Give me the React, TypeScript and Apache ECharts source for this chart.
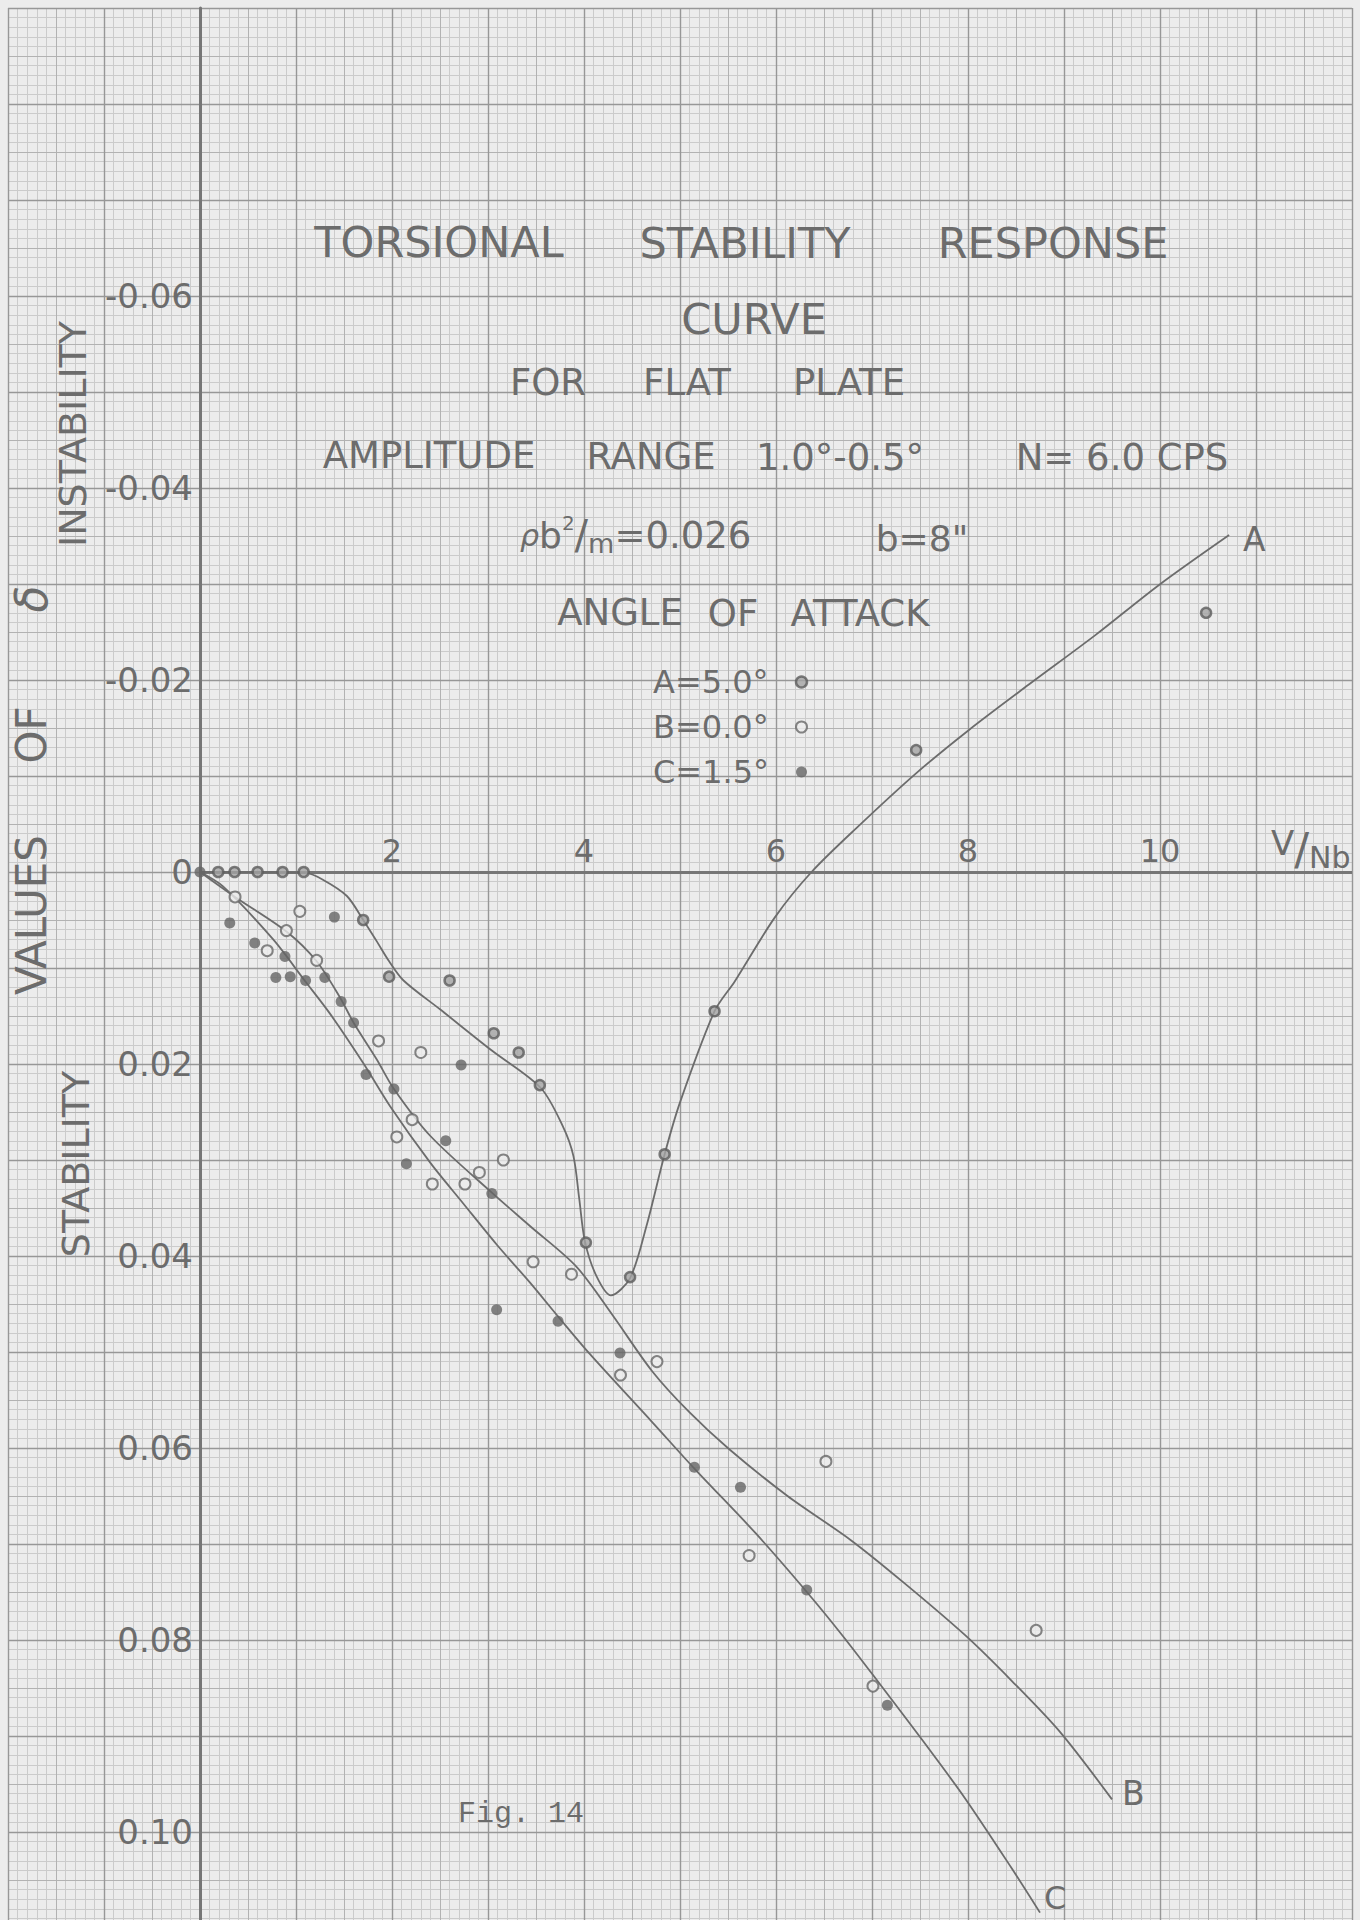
import React, { useEffect, useRef } from "react";
import * as echarts from "echarts";

// ---------- axes ----------
const X_MIN = -2;
const X_MAX = 12;
const Y_MIN = -0.09;
const Y_MAX = 0.11;
const X_AXIS_START = 0;
const X_TICK_VALUES = [2, 4, 6, 8, 10];
const X_TICK_LABELS = ["2", "4", "6", "8", "10"];
const Y_TICK_VALUES = [-0.06, -0.04, -0.02, 0, 0.02, 0.04, 0.06, 0.08, 0.1];
const Y_TICK_LABELS = ["-0.06", "-0.04", "-0.02", "0", "0.02", "0.04", "0.06", "0.08", "0.10"];

// ---------- series names ----------
const CURVE_NAMES = ["A", "B", "C"];
const LEGEND_NAMES = ["A=5.0°", "B=0.0°", "C=1.5°"];

// ---------- faired curves ----------
const A_CURVE_X = [0, 0.6, 1.1, 1.28, 1.53, 1.7, 1.84, 1.97, 2.12, 2.5, 3.04, 3.55, 3.78, 3.89, 3.95, 4.01, 4.13, 4.28, 4.48, 4.65, 4.84, 5.0, 5.36, 5.57, 5.99, 6.37, 6.84, 7.45, 8.01, 8.63, 9.33, 9.99, 10.72];
const A_CURVE_Y = [0, 0, 0.0001, 0.0008, 0.0025, 0.005, 0.0072, 0.0093, 0.0113, 0.0143, 0.0186, 0.0225, 0.0265, 0.0296, 0.034, 0.0385, 0.0421, 0.0441, 0.0423, 0.0369, 0.0294, 0.024, 0.0145, 0.0114, 0.0047, 0, -0.0046, -0.0102, -0.0148, -0.0195, -0.0247, -0.0299, -0.0351];

const B_CURVE_X = [0, 0.365, 0.9, 1.215, 1.46, 1.6, 1.84, 2.02, 2.4, 3.04, 3.44, 3.92, 4.3, 4.71, 5.1, 5.51, 6.12, 6.78, 7.34, 7.97, 8.46, 8.96, 9.5];
const B_CURVE_Y = [0, 0.0026, 0.0062, 0.0093, 0.0131, 0.0157, 0.0195, 0.0226, 0.0275, 0.0334, 0.0369, 0.0411, 0.0462, 0.052, 0.0563, 0.0601, 0.065, 0.0696, 0.0741, 0.0795, 0.0843, 0.0896, 0.0966];

const C_CURVE_X = [0, 0.24, 0.76, 1.09, 1.35, 1.7, 1.98, 2.4, 2.74, 3.09, 3.44, 3.73, 4.06, 4.71, 5.155, 5.79, 6.33, 6.69, 7.06, 7.53, 7.97, 8.45, 8.75];
const C_CURVE_Y = [0, 0.0015, 0.007, 0.0113, 0.0147, 0.0199, 0.0244, 0.0303, 0.0345, 0.0388, 0.0428, 0.0463, 0.0502, 0.0573, 0.0622, 0.0689, 0.0751, 0.0795, 0.0843, 0.0905, 0.0965, 0.1037, 0.1084];

// ---------- measured points ----------
const A_PTS_X = [0.19, 0.36, 0.6, 0.86, 1.08, 1.7, 1.97, 2.6, 3.06, 3.32, 3.54, 4.02, 4.48, 4.84, 5.36, 7.46, 10.48];
const A_PTS_Y = [0, 0, 0, 0, 0, 0.005, 0.0109, 0.0113, 0.0168, 0.0188, 0.0222, 0.0386, 0.0422, 0.0294, 0.0145, -0.0127, -0.027];

const B_PTS_X = [0.365, 0.7, 0.9, 1.04, 1.215, 1.86, 2.05, 2.21, 2.3, 2.42, 2.76, 2.91, 3.16, 3.47, 3.87, 4.38, 4.76, 5.72, 6.52, 7.01, 8.71];
const B_PTS_Y = [0.0026, 0.0082, 0.0061, 0.0041, 0.0092, 0.0176, 0.0276, 0.0258, 0.0188, 0.0325, 0.0325, 0.0313, 0.03, 0.0406, 0.0419, 0.0524, 0.051, 0.0712, 0.0614, 0.0848, 0.079];

const C_PTS_X = [0, 0.31, 0.57, 0.79, 0.885, 0.94, 1.1, 1.3, 1.4, 1.47, 1.6, 1.73, 2.02, 2.15, 2.56, 2.72, 3.04, 3.09, 3.73, 4.375, 5.15, 5.63, 6.32, 7.16];
const C_PTS_Y = [0, 0.0053, 0.0074, 0.011, 0.0088, 0.0109, 0.0113, 0.011, 0.0047, 0.0135, 0.0157, 0.0211, 0.0226, 0.0304, 0.028, 0.0201, 0.0335, 0.0456, 0.0468, 0.0501, 0.062, 0.0641, 0.0748, 0.0868];

const zip = (xs: number[], ys: number[]) => xs.map((x, i) => [x, ys[i]]);

const INK = "#6c6c6c";
const PAPER = "#ececec";
const FONT = "DejaVu Sans";

// grid geometry (graph paper fills the page)
const GRID_LEFT = 8;
const GRID_RIGHT = 8;
const GRID_TOP = 8;
const GRID_BOTTOM = -8;
const PLOT_W = 1360 - GRID_LEFT - GRID_RIGHT;
const PLOT_H = 1920 - GRID_TOP - GRID_BOTTOM;
// shift axes so they sit on the zero lines
const Y_AXIS_OFFSET = -((0 - X_MIN) / (X_MAX - X_MIN)) * PLOT_W;
const X_AXIS_OFFSET = -((Y_MAX - 0) / (Y_MAX - Y_MIN)) * PLOT_H;

const A_STYLE = { color: "#a4a4a4", borderColor: "#5c5c5c", borderWidth: 2.5 };
const B_STYLE = { color: PAPER, borderColor: "#686868", borderWidth: 2 };
const C_STYLE = { color: "#656565", borderColor: "#656565", borderWidth: 0 };

const findLabel = (vals: number[], labels: string[], v: number, eps: number) => {
  const i = vals.findIndex((t) => Math.abs(t - v) < eps);
  return i >= 0 ? labels[i] : "";
};

const txt = (text: string, x: number, y: number, fontSize: number, extra: any = {}) => ({
  type: "text",
  x,
  y,
  z: 20,
  silent: true,
  rotation: extra.rotation || 0,
  style: {
    text,
    fill: INK,
    fontSize,
    fontFamily: extra.fontFamily || FONT,
    fontStyle: extra.fontStyle || "normal",
    align: extra.align || "center",
    verticalAlign: "middle",
  },
});

const hiddenAxisBits = {
  axisLine: { show: false },
  axisTick: { show: false },
  axisLabel: { show: false },
};

function buildOption() {
  const curve = (name: string, xs: number[], ys: number[], label: any, extra: any = {}) => ({
    name,
    type: "line",
    data: zip(xs, ys),
    smooth: 0.3,
    showSymbol: false,
    symbol: "none",
    z: 10,
    silent: true,
    lineStyle: { color: INK, width: 1.8 },
    endLabel: {
      show: true,
      formatter: name,
      color: INK,
      fontFamily: FONT,
      fontSize: 33,
      ...label,
    },
    ...extra,
  });

  const scatter = (name: string, xs: number[], ys: number[], style: any, size: number) => ({
    name,
    type: "scatter",
    data: zip(xs, ys),
    symbol: "circle",
    symbolSize: size,
    z: 12,
    silent: true,
    itemStyle: style,
  });

  return {
    animation: false,
    backgroundColor: PAPER,
    grid: {
      left: GRID_LEFT,
      right: GRID_RIGHT,
      top: GRID_TOP,
      bottom: GRID_BOTTOM,
      containLabel: false,
      outerBoundsMode: "none",
      show: false,
    },
    xAxis: [
      {
        type: "value",
        min: X_MIN,
        max: X_MAX,
        interval: 1,
        position: "bottom",
        offset: X_AXIS_OFFSET,
        z: 3,
        axisLine: { show: false, onZero: false },
        axisTick: { show: false },
        axisLabel: {
          show: true,
          inside: true,
          margin: 5,
          color: INK,
          fontFamily: FONT,
          fontSize: 32,
          formatter: (v: number) => findLabel(X_TICK_VALUES, X_TICK_LABELS, v, 1e-6),
        },
        splitLine: { show: true, lineStyle: { color: "#979797", width: 1.4 } },
      },
      {
        type: "value",
        min: X_MIN,
        max: X_MAX,
        interval: 0.5,
        position: "top",
        z: 2,
        ...hiddenAxisBits,
        splitLine: { show: true, lineStyle: { color: "#b2b2b2", width: 1 } },
      },
      {
        type: "value",
        min: X_MIN,
        max: X_MAX,
        interval: 1,
        position: "top",
        offset: 10,
        z: 1,
        ...hiddenAxisBits,
        splitLine: { show: false },
        minorTick: { show: false, splitNumber: 10 },
        minorSplitLine: { show: true, lineStyle: { color: "#cbcbcb", width: 1 } },
      },
    ],
    yAxis: [
      {
        type: "value",
        min: Y_MIN,
        max: Y_MAX,
        interval: 0.01,
        inverse: true,
        position: "left",
        offset: Y_AXIS_OFFSET,
        z: 3,
        axisLine: { show: true, onZero: false, lineStyle: { color: "#767676", width: 3 } },
        axisTick: { show: false },
        axisLabel: {
          show: true,
          margin: 7,
          color: INK,
          fontFamily: FONT,
          fontSize: 34,
          formatter: (v: number) => findLabel(Y_TICK_VALUES, Y_TICK_LABELS, v, 1e-7),
        },
        splitLine: { show: true, lineStyle: { color: "#979797", width: 1.4 } },
      },
      {
        type: "value",
        min: Y_MIN,
        max: Y_MAX,
        interval: 0.005,
        inverse: true,
        position: "right",
        z: 2,
        ...hiddenAxisBits,
        splitLine: { show: true, lineStyle: { color: "#b2b2b2", width: 1 } },
      },
      {
        type: "value",
        min: Y_MIN,
        max: Y_MAX,
        interval: 0.01,
        inverse: true,
        position: "right",
        offset: 10,
        z: 1,
        ...hiddenAxisBits,
        splitLine: { show: false },
        minorTick: { show: false, splitNumber: 10 },
        minorSplitLine: { show: true, lineStyle: { color: "#cbcbcb", width: 1 } },
      },
    ],
    legend: {
      data: [
        { name: LEGEND_NAMES[0], icon: "circle", itemStyle: A_STYLE },
        { name: LEGEND_NAMES[1], icon: "circle", itemStyle: B_STYLE },
        { name: LEGEND_NAMES[2], icon: "circle", itemStyle: C_STYLE },
      ],
      orient: "vertical",
      align: "right",
      left: 648,
      top: 661,
      itemWidth: 11,
      itemHeight: 11,
      itemGap: 13,
      selectedMode: false,
      formatter: (name: string) => `{t|${name}}`,
      textStyle: {
        color: INK,
        fontFamily: FONT,
        fontSize: 32,
        rich: {
          t: { width: 138, align: "left", color: INK, fontFamily: FONT, fontSize: 32, lineHeight: 34 },
        },
      },
    },
    series: [
      curve(CURVE_NAMES[0], A_CURVE_X, A_CURVE_Y, { distance: 14, offset: [0, 4] }, {
        markLine: {
          silent: true,
          symbol: ["none", "none"],
          label: { show: false },
          lineStyle: { color: "#767676", width: 3, type: "solid" },
          data: [[{ coord: [X_AXIS_START, 0] }, { coord: [X_MAX, 0] }]],
        },
      }),
      curve(CURVE_NAMES[1], B_CURVE_X, B_CURVE_Y, { distance: 10, offset: [0, -6] }),
      curve(CURVE_NAMES[2], C_CURVE_X, C_CURVE_Y, { distance: 4, offset: [0, -15], fontSize: 32 }),
      scatter(LEGEND_NAMES[0], A_PTS_X, A_PTS_Y, A_STYLE, 10),
      scatter(LEGEND_NAMES[1], B_PTS_X, B_PTS_Y, B_STYLE, 11),
      scatter(LEGEND_NAMES[2], C_PTS_X, C_PTS_Y, C_STYLE, 11),
    ],
    graphic: [
      txt("TORSIONAL", 439, 242, 43),
      txt("STABILITY", 745, 243, 43),
      txt("RESPONSE", 1053, 243, 43),
      txt("CURVE", 754, 319, 43),
      txt("FOR", 548, 382, 37),
      txt("FLAT", 687, 382, 37),
      txt("PLATE", 849, 382, 37),
      txt("AMPLITUDE", 429, 455, 37),
      txt("RANGE", 651, 456, 37),
      txt("1.0°-0.5°", 840, 457, 37),
      txt("N= 6.0 CPS", 1122, 457, 37),
      {
        type: "text",
        x: 520,
        y: 535,
        z: 20,
        silent: true,
        style: {
          text: "{rho|ρ}{b|b}{sup|2}{sl|/}{sub|m}{eq|=0.026}",
          align: "left",
          verticalAlign: "middle",
          fill: INK,
          rich: {
            rho: { fontSize: 30, fontFamily: FONT, fontStyle: "italic", fill: INK, color: INK, lineHeight: 44, verticalAlign: "middle" },
            b: { fontSize: 36, fontFamily: FONT, fill: INK, color: INK, lineHeight: 44 },
            sup: { fontSize: 20, fontFamily: FONT, fill: INK, color: INK, lineHeight: 22, verticalAlign: "top" },
            sl: { fontSize: 40, fontFamily: FONT, fill: INK, color: INK, lineHeight: 44 },
            sub: { fontSize: 27, fontFamily: FONT, fill: INK, color: INK, lineHeight: 28, verticalAlign: "bottom" },
            eq: { fontSize: 37, fontFamily: FONT, fill: INK, color: INK, lineHeight: 44 },
          },
        },
      },
      txt('b=8"', 922, 538, 36),
      txt("ANGLE", 620, 612, 37),
      txt("OF", 733, 613, 37),
      txt("ATTACK", 860, 613, 37),
      {
        type: "text",
        x: 1271,
        y: 849,
        z: 20,
        silent: true,
        style: {
          text: "{v|V}{sl|/}{nb|Nb}",
          align: "left",
          verticalAlign: "middle",
          fill: INK,
          rich: {
            v: { fontSize: 34, fontFamily: FONT, fill: INK, color: INK, lineHeight: 34, verticalAlign: "top" },
            sl: { fontSize: 44, fontFamily: FONT, fill: INK, color: INK, lineHeight: 46 },
            nb: { fontSize: 30, fontFamily: FONT, fill: INK, color: INK, lineHeight: 30, verticalAlign: "bottom" },
          },
        },
      },
      txt("VALUES", 31, 915, 42, { rotation: Math.PI / 2 }),
      txt("OF", 31, 735, 42, { rotation: Math.PI / 2 }),
      txt("δ", 31, 599, 44, { rotation: Math.PI / 2, fontStyle: "italic" }),
      txt("INSTABILITY", 73, 434, 38, { rotation: Math.PI / 2 }),
      txt("STABILITY", 76, 1164, 38, { rotation: Math.PI / 2 }),
      txt("Fig. 14", 521, 1814, 30, { fontFamily: "Liberation Mono" }),
    ],
  };
}

export default function App() {
  const ref = useRef<HTMLDivElement>(null);
  useEffect(() => {
    if (!ref.current) return;
    const chart = echarts.init(ref.current, null, { renderer: "svg" });
    chart.setOption(buildOption() as any);
    return () => chart.dispose();
  }, []);
  return (
    <div
      ref={ref}
      style={{ position: "absolute", left: 0, top: 0, width: 1360, height: 1920, background: PAPER }}
    />
  );
}
